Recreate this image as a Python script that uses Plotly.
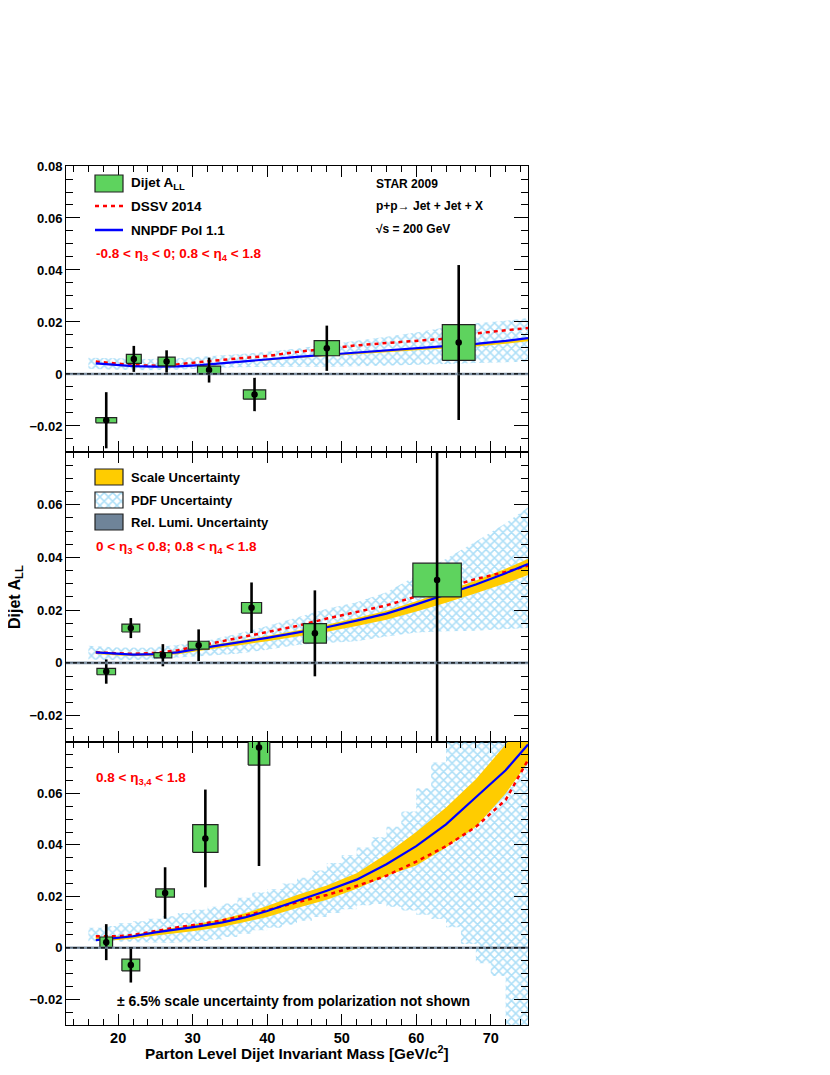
import plotly.graph_objects as go

# ---------------- data ----------------
# top panel: -0.8 < eta3 < 0 ; 0.8 < eta4 < 1.8
mass_1 = [18.4, 22.1, 26.5, 32.2, 38.3, 48.0, 65.7]
all_1 = [-0.0178, 0.0058, 0.0048, 0.0015, -0.0079, 0.0099, 0.0121]
stat_1 = [0.0108, 0.0050, 0.0043, 0.0048, 0.0064, 0.0087, 0.0298]
sysm_1 = [1.4, 1.0, 1.15, 1.55, 1.5, 1.7, 2.2]
sysa_1 = [0.0010, 0.0017, 0.0017, 0.0015, 0.0018, 0.0029, 0.0069]

# middle panel: 0 < eta3 < 0.8 ; 0.8 < eta4 < 1.8
mass_2 = [18.4, 21.7, 26.0, 30.8, 37.9, 46.4, 62.8]
all_2 = [-0.0033, 0.0132, 0.0029, 0.0067, 0.0209, 0.0112, 0.0314]
stat_2 = [0.0046, 0.0038, 0.0042, 0.0060, 0.0096, 0.0163, 0.0650]
sysm_2 = [1.25, 1.2, 1.2, 1.4, 1.35, 1.55, 3.25]
sysa_2 = [0.0012, 0.0015, 0.0010, 0.0015, 0.0020, 0.0037, 0.0064]

# bottom panel: 0.8 < eta3,4 < 1.8
mass_3 = [18.4, 21.7, 26.3, 31.7, 38.9]
all_3 = [0.0022, -0.0067, 0.0213, 0.0425, 0.0778]
stat_3 = [0.0070, 0.0068, 0.0100, 0.0190, 0.0460]
sysm_3 = [0.85, 1.2, 1.25, 1.7, 1.45]
sysa_3 = [0.0020, 0.0023, 0.0016, 0.0054, 0.0068]

# theory grid
mth = [17, 20, 22, 25, 28, 31, 34, 37, 40, 44, 48, 52, 56, 60, 64, 68, 72, 75]

dssv_1 = [0.0048, 0.0038, 0.0034, 0.0032, 0.0037, 0.0046, 0.0055, 0.0062, 0.0069, 0.0085,
          0.0097, 0.0110, 0.0119, 0.0127, 0.0136, 0.0156, 0.0168, 0.0177]
nnpdf_1 = [0.0041, 0.0033, 0.0030, 0.0028, 0.0029, 0.0034, 0.0042, 0.0050, 0.0056, 0.0066,
           0.0074, 0.0082, 0.0091, 0.0099, 0.0107, 0.0116, 0.0127, 0.0138]
scale_hi_1 = [0.0042, 0.0034, 0.0031, 0.0029, 0.0030, 0.0035, 0.0043, 0.0051, 0.0057, 0.0067,
              0.0075, 0.0083, 0.0092, 0.0100, 0.0108, 0.0117, 0.0128, 0.0139]
scale_lo_1 = [0.0039, 0.0031, 0.0028, 0.0026, 0.0027, 0.0031, 0.0039, 0.0046, 0.0052, 0.0061,
              0.0068, 0.0076, 0.0084, 0.0091, 0.0098, 0.0106, 0.0116, 0.0126]

dssv_2 = [0.0040, 0.0035, 0.0034, 0.0038, 0.0048, 0.0065, 0.0082, 0.0098, 0.0115, 0.0140,
          0.0168, 0.0193, 0.0218, 0.0252, 0.0285, 0.0318, 0.0345, 0.0369]
nnpdf_2 = [0.0040, 0.0033, 0.0031, 0.0033, 0.0040, 0.0055, 0.0068, 0.0081, 0.0095, 0.0115,
           0.0135, 0.0160, 0.0187, 0.0222, 0.0258, 0.0297, 0.0340, 0.0375]
scale_hi_2 = [0.0045, 0.0037, 0.0035, 0.0037, 0.0045, 0.0060, 0.0074, 0.0088, 0.0102, 0.0123,
              0.0145, 0.0170, 0.0198, 0.0234, 0.0272, 0.0312, 0.0357, 0.0394]
scale_lo_2 = [0.0034, 0.0028, 0.0026, 0.0027, 0.0033, 0.0046, 0.0058, 0.0070, 0.0082, 0.0100,
              0.0118, 0.0140, 0.0164, 0.0195, 0.0228, 0.0264, 0.0302, 0.0333]

dssv_3 = [0.0045, 0.0045, 0.0050, 0.0066, 0.0080, 0.0092, 0.0107, 0.0125, 0.0146, 0.0177,
          0.0205, 0.0240, 0.0280, 0.0335, 0.0395, 0.0470, 0.0575, 0.0730]
nnpdf_3 = [0.0030, 0.0038, 0.0045, 0.0060, 0.0072, 0.0084, 0.0099, 0.0118, 0.0143, 0.0182,
           0.0222, 0.0265, 0.0325, 0.0395, 0.0480, 0.0585, 0.0690, 0.0790]
scale_hi_3 = [0.0041, 0.0045, 0.0050, 0.0066, 0.0080, 0.0094, 0.0112, 0.0134, 0.0162, 0.0205,
              0.0242, 0.0290, 0.0365, 0.0450, 0.0545, 0.0655, 0.0790, 0.0900]
scale_lo_3 = [0.0026, 0.0030, 0.0035, 0.0048, 0.0058, 0.0068, 0.0082, 0.0100, 0.0120, 0.0155,
              0.0187, 0.0230, 0.0280, 0.0320, 0.0390, 0.0470, 0.0600, 0.0720]

# PDF uncertainty bands
mpdf = [16, 20, 24, 28, 32, 36, 40, 44, 48, 52, 56, 60, 64, 68, 72, 75]
pdf_hi_1 = [0.0062, 0.0060, 0.0058, 0.0060, 0.0068, 0.0076, 0.0085, 0.0098, 0.0112, 0.0128,
            0.0143, 0.0160, 0.0180, 0.0195, 0.0205, 0.0215]
pdf_lo_1 = [0.0020, 0.0016, 0.0014, 0.0016, 0.0022, 0.0026, 0.0028, 0.0028, 0.0028, 0.0030,
            0.0032, 0.0035, 0.0038, 0.0042, 0.0045, 0.0048]
pdf_hi_2 = [0.0065, 0.0058, 0.0057, 0.0068, 0.0085, 0.0110, 0.0140, 0.0172, 0.0205, 0.0230,
            0.0268, 0.0330, 0.0395, 0.0460, 0.0530, 0.0590]
pdf_lo_2 = [0.0013, 0.0010, 0.0012, 0.0020, 0.0027, 0.0035, 0.0050, 0.0068, 0.0075, 0.0082,
            0.0100, 0.0115, 0.0120, 0.0122, 0.0128, 0.0132]

# bottom panel PDF band, in 2 GeV bins (left edges)
mpdf_3 = [16, 18, 20, 22, 24, 26, 28, 30, 32, 34, 36, 38, 40, 42, 44, 46, 48, 50, 52, 54,
          56, 58, 60, 62, 64, 66, 68, 70, 72, 74]
pdf_hi_3 = [0.0078, 0.0085, 0.0095, 0.0103, 0.0113, 0.0123, 0.0135, 0.0148, 0.0160, 0.0172,
            0.0195, 0.0215, 0.0228, 0.0250, 0.0272, 0.0300, 0.0330, 0.0360, 0.0390, 0.0430,
            0.0470, 0.0530, 0.0620, 0.0720, 0.0850, 0.0900, 0.0900, 0.0900, 0.0900, 0.0900]
pdf_lo_3 = [0.0025, 0.0026, 0.0024, 0.0022, 0.0021, 0.0020, 0.0022, 0.0026, 0.0032, 0.0042,
            0.0055, 0.0068, 0.0078, 0.0090, 0.0105, 0.0120, 0.0135, 0.0150, 0.0165, 0.0170,
            0.0160, 0.0145, 0.0128, 0.0112, 0.0080, 0.0015, -0.0060, -0.0110, -0.0300, -0.0350]
mass_max = 75

rel_lumi = 0.0005

x_ticks = [20, 30, 40, 50, 60, 70]
y_ticks_top = [-0.02, 0, 0.02, 0.04, 0.06, 0.08]
y_ticks = [-0.02, 0, 0.02, 0.04, 0.06]

# ---------------- styles ----------------
GREEN = "#5ed35e"
GOLD = "#ffcc00"
HATCH = "#5cbff0"
LUMI = "#6f8499"
RED = "#ff0000"
BLUE = "#0000ff"
FONT = "Liberation Sans, Arial, sans-serif"
HATCH_PATTERN = dict(shape="x", fgcolor=HATCH, bgcolor="rgba(0,0,0,0)", size=6, solidity=0.45)


def band_poly(x, lo, hi):
    return list(x) + list(x)[::-1], list(hi) + list(lo)[::-1]


def step_poly(edges, lo, hi, xmax):
    xs, yh, yl = [], [], []
    ends = list(edges[1:]) + [xmax]
    for e0, e1, h, l in zip(edges, ends, hi, lo):
        xs += [e0, e1]
        yh += [h, h]
        yl += [l, l]
    return xs + xs[::-1], yh + yl[::-1]


def box_poly(m, a, sm, sa):
    xs, ys = [], []
    for mi, ai, dx, dy in zip(m, a, sm, sa):
        xs += [mi - dx, mi + dx, mi + dx, mi - dx, mi - dx, None]
        ys += [ai - dy, ai - dy, ai + dy, ai + dy, ai - dy, None]
    return xs, ys


fig = go.Figure()

panels = [
    dict(ax="", pdf=band_poly(mpdf, pdf_lo_1, pdf_hi_1), sc=band_poly(mth, scale_lo_1, scale_hi_1),
         dssv=dssv_1, nn=nnpdf_1, m=mass_1, a=all_1, st=stat_1, sm=sysm_1, sa=sysa_1),
    dict(ax="2", pdf=band_poly(mpdf, pdf_lo_2, pdf_hi_2), sc=band_poly(mth, scale_lo_2, scale_hi_2),
         dssv=dssv_2, nn=nnpdf_2, m=mass_2, a=all_2, st=stat_2, sm=sysm_2, sa=sysa_2),
    dict(ax="3", pdf=step_poly(mpdf_3, pdf_lo_3, pdf_hi_3, mass_max),
         sc=band_poly(mth, scale_lo_3, scale_hi_3),
         dssv=dssv_3, nn=nnpdf_3, m=mass_3, a=all_3, st=stat_3, sm=sysm_3, sa=sysa_3),
]

for p in panels:
    xa, ya = "x" + p["ax"], "y" + p["ax"]
    fig.add_trace(go.Scatter(x=p["pdf"][0], y=p["pdf"][1], xaxis=xa, yaxis=ya, mode="none",
                             fill="toself", fillcolor="rgba(0,0,0,0)", fillpattern=HATCH_PATTERN,
                             hoverinfo="skip", showlegend=False))
    fig.add_trace(go.Scatter(x=p["sc"][0], y=p["sc"][1], xaxis=xa, yaxis=ya, mode="none",
                             fill="toself", fillcolor=GOLD, hoverinfo="skip", showlegend=False))
    fig.add_trace(go.Scatter(x=mth, y=p["dssv"], xaxis=xa, yaxis=ya, mode="lines",
                             line=dict(color=RED, width=2.5, dash="4px,4px"), showlegend=False))
    fig.add_trace(go.Scatter(x=mth, y=p["nn"], xaxis=xa, yaxis=ya, mode="lines",
                             line=dict(color=BLUE, width=2.2), showlegend=False))
    bx, by = box_poly(p["m"], p["a"], p["sm"], p["sa"])
    fig.add_trace(go.Scatter(x=bx, y=by, xaxis=xa, yaxis=ya, mode="lines", fill="toself",
                             fillcolor=GREEN, line=dict(color="#222222", width=1.2),
                             hoverinfo="skip", showlegend=False))
    fig.add_trace(go.Scatter(x=p["m"], y=p["a"], xaxis=xa, yaxis=ya, mode="markers",
                             marker=dict(color="black", size=6.5),
                             error_y=dict(type="data", array=p["st"], color="black",
                                          thickness=2.6, width=0),
                             showlegend=False))

# ---- relative luminosity band and zero line ----
shapes = []
for ax in ["", "2", "3"]:
    shapes.append(dict(type="rect", xref=f"x{ax} domain", yref=f"y{ax}", x0=0, x1=1,
                       y0=-rel_lumi, y1=rel_lumi, fillcolor=LUMI, line=dict(width=0),
                       opacity=0.85, layer="above"))
    shapes.append(dict(type="line", xref=f"x{ax} domain", yref=f"y{ax}", x0=0, x1=1, y0=0, y1=0,
                       line=dict(color="black", width=1.3, dash="4px,3px"), layer="above"))

# ---- legend glyphs (overlay axis in page pixels of the plot area) ----
PX = dict(xaxis="x4", yaxis="y4")
shapes += [
    dict(type="rect", xref="x4", yref="y4", x0=95, x1=123, y0=175, y1=192,
         fillcolor=GREEN, line=dict(color="#222222", width=1.2)),
    dict(type="line", xref="x4", yref="y4", x0=95, x1=123, y0=206, y1=206,
         line=dict(color=RED, width=2.5, dash="4px,4px")),
    dict(type="line", xref="x4", yref="y4", x0=95, x1=123, y0=230, y1=230,
         line=dict(color=BLUE, width=2.5)),
    dict(type="rect", xref="x4", yref="y4", x0=95, x1=123, y0=469, y1=485,
         fillcolor=GOLD, line=dict(color="#222222", width=1.2)),
    dict(type="rect", xref="x4", yref="y4", x0=95, x1=123, y0=492, y1=508,
         fillcolor="rgba(0,0,0,0)", line=dict(color="#222222", width=1.2)),
    dict(type="rect", xref="x4", yref="y4", x0=95, x1=123, y0=514, y1=530,
         fillcolor=LUMI, line=dict(color="#222222", width=1.2)),
]
fig.add_trace(go.Scatter(x=[109], y=[183.5], mode="markers", marker=dict(color="black", size=6.5),
                         hoverinfo="skip", showlegend=False, **PX))
fig.add_trace(go.Scatter(x=[95, 123, 123, 95, 95], y=[492, 492, 508, 508, 492], mode="none",
                         fill="toself", fillcolor="rgba(0,0,0,0)", fillpattern=HATCH_PATTERN,
                         hoverinfo="skip", showlegend=False, **PX))


# ---- texts ----
def txt(x, y, s, size=13.5, color="black", anchor="left"):
    return dict(x=x, y=y, xref="x4", yref="y4", text=s, showarrow=False, xanchor=anchor,
                yanchor="middle", font=dict(family=FONT, size=size, color=color, weight="bold"))


annotations = [
    txt(129, 183, "Dijet A<sub>LL</sub>"),
    txt(129, 206, "DSSV 2014"),
    txt(129, 230, "NNPDF Pol 1.1"),
    txt(94, 254, "-0.8 < η<sub>3</sub> < 0; 0.8 < η<sub>4</sub> < 1.8", color=RED),
    txt(374, 184, "STAR 2009", size=12),
    txt(374, 206, "p+p→ Jet + Jet + X", size=12),
    txt(374, 229, "√s = 200 GeV", size=12),
    txt(129, 477, "Scale Uncertainty", size=13),
    txt(129, 500, "PDF Uncertainty", size=13),
    txt(129, 522, "Rel. Lumi. Uncertainty", size=13),
    txt(94, 547, "0 < η<sub>3</sub> < 0.8; 0.8 < η<sub>4</sub> < 1.8", color=RED),
    txt(94, 778, "0.8 < η<sub>3,4</sub> < 1.8", color=RED),
    txt(293, 1001, "± 6.5% scale uncertainty from polarization not shown", size=14,
        anchor="center"),
    # axis titles (paper coordinates, outside the plot area)
    dict(x=(15 - 66) / 462, y=(1025 - 597) / 859, xref="paper", yref="paper",
         text="Dijet A<sub>LL</sub>", showarrow=False, textangle=-90,
         xanchor="center", yanchor="middle",
         font=dict(family=FONT, size=16, color="black", weight="bold")),
    dict(x=(297 - 66) / 462, y=(1025 - 1052) / 859, xref="paper", yref="paper",
         text="Parton Level Dijet Invariant Mass [GeV/c<sup>2</sup>]", showarrow=False,
         xanchor="center", yanchor="middle",
         font=dict(family=FONT, size=15.3, color="black", weight="bold")),
]

# ---- axes ----
xcommon = dict(range=[13, 75], tickvals=x_ticks, ticks="inside", ticklen=11, tickwidth=1,
               tickcolor="black", mirror="allticks", showline=True, linecolor="black",
               linewidth=1, showgrid=False, zeroline=False,
               minor=dict(tickmode="linear", tick0=0, dtick=2, ticks="inside", ticklen=6,
                          tickcolor="black", showgrid=False),
               tickfont=dict(family=FONT, size=14.5, weight="bold"))
ycommon = dict(range=[-0.03, 0.08], ticks="inside", ticklen=14, tickwidth=1, tickcolor="black",
               mirror="allticks", showline=True, linecolor="black", linewidth=1,
               showgrid=False, zeroline=False, tickmode="array",
               minor=dict(tickmode="linear", tick0=0, dtick=0.005, ticks="inside", ticklen=7,
                          tickcolor="black", showgrid=False),
               tickfont=dict(family=FONT, size=13, weight="bold"))


def ylab(v):
    if v == 0:
        return "0"
    s = f"{abs(v):.2f}"
    return ("−" if v < 0 else "") + s


# page has an 8 px body margin: plot area should land at page x 66..528, y 166..1025
fig.update_layout(
    width=830, height=1075,
    margin=dict(l=58, r=310, t=158, b=58),
    paper_bgcolor="white", plot_bgcolor="rgba(0,0,0,0)",
    font=dict(family=FONT, size=13, color="black", weight="bold"),
    showlegend=False,
    xaxis=dict(xcommon, anchor="y", showticklabels=False),
    xaxis2=dict(xcommon, anchor="y2", showticklabels=False),
    xaxis3=dict(xcommon, anchor="y3", showticklabels=True),
    yaxis=dict(ycommon, anchor="x", domain=[0.6671, 1.0], tickvals=y_ticks_top,
               ticktext=[ylab(v) for v in y_ticks_top]),
    yaxis2=dict(ycommon, anchor="x2", domain=[0.3295, 0.6671], tickvals=y_ticks,
                ticktext=[ylab(v) for v in y_ticks]),
    yaxis3=dict(ycommon, anchor="x3", domain=[0.0, 0.3295], tickvals=y_ticks,
                ticktext=[ylab(v) for v in y_ticks]),
    xaxis4=dict(domain=[0, 1], range=[66, 528], anchor="y4", visible=False, fixedrange=True),
    yaxis4=dict(domain=[0, 1], range=[1025, 166], anchor="x4", visible=False, fixedrange=True),
    shapes=shapes,
    annotations=annotations,
)

fig.write_html("out.html")
